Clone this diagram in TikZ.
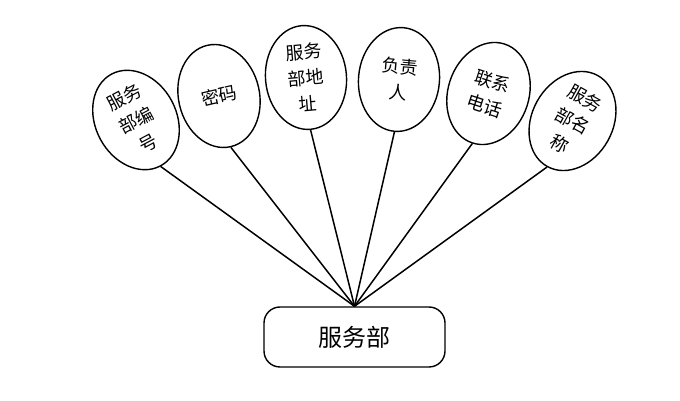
\documentclass[tikz,border=0pt]{standalone}
\usepackage{fontspec}
\newfontfamily\cjk{Noto Sans CJK SC}
\usetikzlibrary{shapes.geometric, positioning}
\tikzset{
  attr/.style  = {draw, ellipse, line width=1.4pt, inner sep=0pt,
                  minimum width=81pt, minimum height=104pt, align=center,
                  font=\cjk\fontsize{18}{26}\selectfont},
  ent/.style   = {draw, rounded corners=16pt, line width=1.4pt,
                  minimum width=181pt, minimum height=60pt,
                  font=\cjk\fontsize{24}{28}\selectfont},
  link/.style  = {line width=1.5pt}
}
\begin{document}
\begin{tikzpicture}[x=1pt, y=1pt]
  \useasboundingbox (0,0) rectangle (680,401);
  \node[ent] (fwb) at (354.5,64) {服务部};
  \node[attr, rotate=28]  (bh)   at (136,281)   {服务\\部编\\号};
  \node[attr, rotate=13]  (mm)   at (219,305)   {密码};
  \node[attr, rotate=5]   (dz)   at (306,323.5) {服务\\部地\\址};
  \node[attr, rotate=-5]  (fzr)  at (399,321.5) {负责\\人};
  \node[attr, rotate=-18] (lxdh) at (488.5,307.5) {联系\\电话};
  \node[attr, rotate=-29] (mc)   at (572.5,280) {服务\\部名\\称};
  \foreach \a in {bh, mm, dz, fzr, lxdh, mc}
    \draw[link] (\a.south) -- (fwb.north);
\end{tikzpicture}
\end{document}
